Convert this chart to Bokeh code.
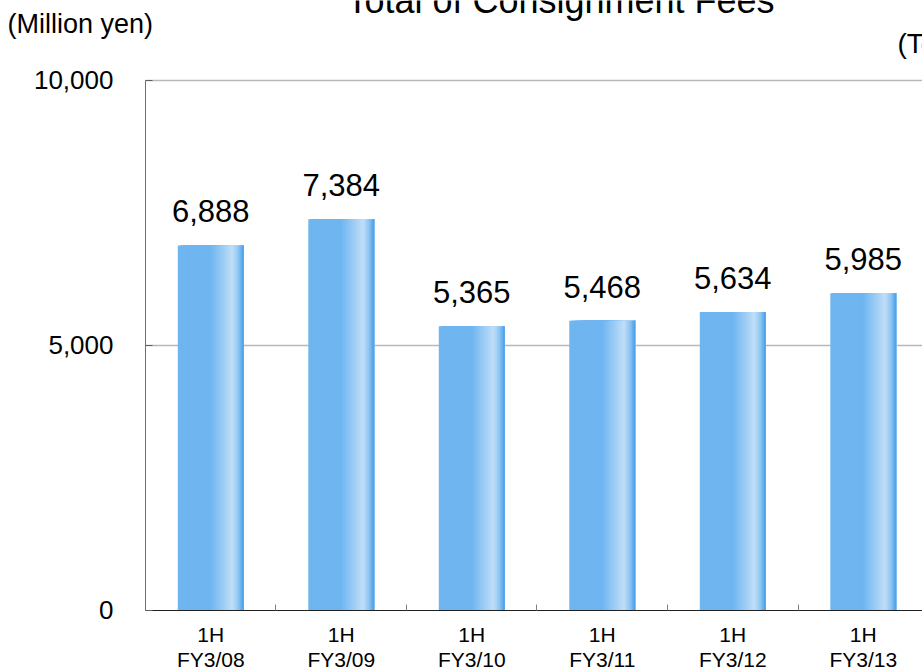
from bokeh.plotting import figure
from bokeh.models import (ColumnDataSource, Range1d, FixedTicker, NumeralTickFormatter, Label)
from bokeh.core.properties import value
from bokeh.transform import dodge
from bokeh.embed import file_html
from bokeh.resources import INLINE

# ---- data ----
categories = ["1H\nFY3/08", "1H\nFY3/09", "1H\nFY3/10", "1H\nFY3/11", "1H\nFY3/12", "1H\nFY3/13"]
values = [6888, 7384, 5365, 5468, 5634, 5985]
y_ticks = [0, 5000, 10000]
title_text = "Total of Consignment Fees"
unit_text = "(Million yen)"
note_text = "(Total for the first half)"

FONT = "Liberation Sans"

xs = [i + 0.5 for i in range(len(categories))]
labels = [f"{v:,}" for v in values]
src = ColumnDataSource(dict(x=xs, value=values, label=labels))

W, H = 922, 671
# frame covers the whole canvas; axes are pinned at x=0 / y=0
p = figure(width=W, height=H, output_backend="svg", toolbar_location=None,
           x_range=Range1d(-1.111, 5.954), y_range=Range1d(-1151, 11509),
           min_border=0)
p.min_border_left = p.min_border_right = p.min_border_top = p.min_border_bottom = 0
p.outline_line_color = None
p.background_fill_color = "white"
p.border_fill_color = "white"

# ---- bars with horizontal gradient (built from layered strips) ----
stops = [(0.0, (0x6f, 0xb5, 0xf0)), (0.5, (0x6f, 0xb5, 0xf0)), (0.83, (0xc0, 0xde, 0xf8)),
         (0.92, (0x8e, 0xc6, 0xf3)), (1.0, (0x46, 0x9c, 0xe8))]

def interp(t):
    for (t0, c0), (t1, c1) in zip(stops[:-1], stops[1:]):
        if t0 <= t <= t1:
            f = 0 if t1 == t0 else (t - t0) / (t1 - t0)
            return "#%02x%02x%02x" % tuple(int(round(a + (b - a) * f)) for a, b in zip(c0, c1))
    return "#%02x%02x%02x" % stops[-1][1]

bw = 0.505
N = 40
for k in range(N):
    left = -bw / 2 + k * bw / N
    right = bw / 2
    p.vbar(x=dodge("x", (left + right) / 2, range=p.x_range), top="value", bottom=0,
           width=right - left, source=src, fill_color=interp((k + 0.5) / N), line_color=None)

# ---- value labels ----
p.text(x="x", y="value", text="label", source=src, text_align="center", text_baseline="alphabetic",
       y_offset=-34, text_font=value(FONT), text_font_size="31px", text_color="black")

# ---- axes ----
p.xaxis.fixed_location = 0
p.xaxis.bounds = (0, 6)
p.xaxis.ticker = FixedTicker(ticks=xs, minor_ticks=[1, 2, 3, 4, 5])
p.xaxis.major_label_overrides = {x: c for x, c in zip(xs, categories)}
p.xaxis.major_tick_line_color = None
p.xaxis.major_tick_in = 0
p.xaxis.major_tick_out = 0
p.xaxis.minor_tick_in = 6
p.xaxis.minor_tick_out = 0
p.xaxis.minor_tick_line_color = "#808080"
p.xaxis.axis_line_color = "#202020"
p.xaxis.major_label_text_font = FONT
p.xaxis.major_label_text_font_size = "21px"
p.xaxis.major_label_text_color = "black"
p.xaxis.major_label_text_line_height = 1.08
p.xaxis.major_label_standoff = 13

p.yaxis.fixed_location = 0
p.yaxis.bounds = (0, 10000)
p.yaxis.ticker = FixedTicker(ticks=y_ticks)
p.yaxis.formatter = NumeralTickFormatter(format="0,0")
p.yaxis.major_tick_in = 7
p.yaxis.major_tick_out = 0
p.yaxis.minor_tick_line_color = None
p.yaxis.major_tick_line_color = "#606060"
p.yaxis.axis_line_color = "#707070"
p.yaxis.major_label_text_font = FONT
p.yaxis.major_label_text_font_size = "26px"
p.yaxis.major_label_text_color = "black"
p.yaxis.major_label_standoff = 32

p.xgrid.grid_line_color = None
yg = p.ygrid[0]
yg.grid_line_color = "#b8b8b8"
yg.grid_line_width = 1.5
yg.ticker = FixedTicker(ticks=[5000, 10000])
if "cross_bounds" in yg.properties():
    yg.cross_bounds = (0, 6.5)

# ---- texts around the plot ----
p.add_layout(Label(x=560, y=H - 0, x_units="screen", y_units="screen", text=title_text,
                   text_align="center", text_baseline="alphabetic", text_font=FONT,
                   text_font_size="36px", text_color="black"))
p.add_layout(Label(x=7, y=H - 23, x_units="screen", y_units="screen", text=unit_text,
                   text_align="left", text_baseline="alphabetic", text_font=FONT,
                   text_font_size="27px", text_color="black"))
p.add_layout(Label(x=897, y=H - 43, x_units="screen", y_units="screen", text=note_text,
                   text_align="left", text_baseline="alphabetic", text_font=FONT,
                   text_font_size="28px", text_color="black"))

open("out.html", "w").write(file_html(p, INLINE))
